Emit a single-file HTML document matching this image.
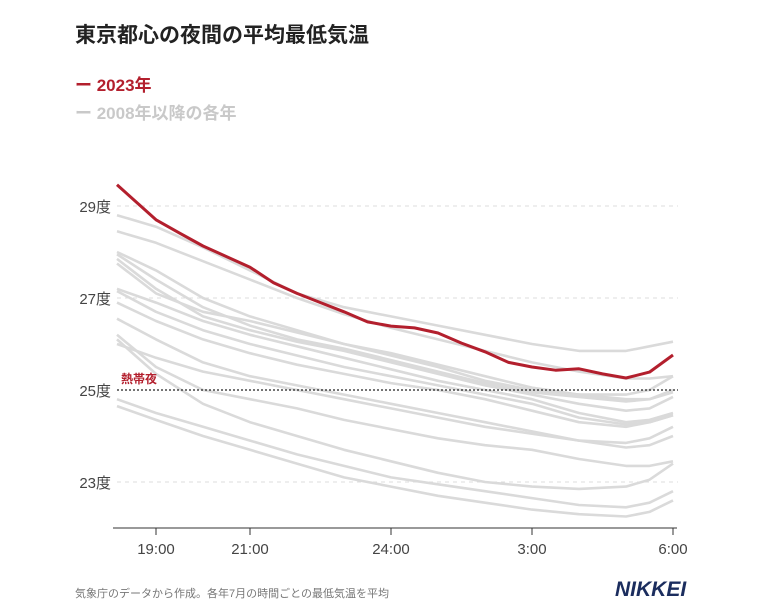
<!DOCTYPE html>
<html><head><meta charset="utf-8">
<style>
body{margin:0;background:#fff;width:775px;height:604px;overflow:hidden;font-family:"Liberation Sans","Noto Sans CJK JP",sans-serif;}
#wrap{position:relative;width:775px;height:604px;}
.t{position:absolute;white-space:nowrap;}
</style></head><body>
<div id="wrap">
<div class="t" style="left:75px;top:19px;font-size:21px;font-weight:bold;color:#222;">東京都心の夜間の平均最低気温</div>
<div class="t" style="left:75px;top:71px;font-size:17px;font-weight:bold;color:#b31f2d;">ー 2023年</div>
<div class="t" style="left:75px;top:99px;font-size:17px;font-weight:bold;color:#c9c9c9;">ー 2008年以降の各年</div>
<svg id="chart" width="775" height="604" style="position:absolute;left:0;top:0"></svg>
<div class="t" style="left:75px;top:585px;font-size:11px;color:#777;">気象庁のデータから作成。各年7月の時間ごとの最低気温を平均</div>
<div class="t" style="left:615px;top:578px;font-size:21px;font-weight:bold;font-style:italic;color:#1b2d5e;letter-spacing:0px;">NIKKEI</div>
</div>
<script>
const hours=[18.17,19,19.5,20,20.5,21,21.5,22,22.5,23,23.5,24,24.5,25,25.5,26,26.5,27,27.5,28,28.5,29,29.5,30];
const red2023=[29.46,28.7,28.41,28.13,27.9,27.67,27.33,27.1,26.9,26.7,26.48,26.39,26.35,26.24,26.02,25.83,25.6,25.5,25.43,25.46,25.35,25.26,25.39,25.76];
const grayHours=[18.17,19,20,21,22,23,24,25,26,27,28,29,29.5,30];
const gray1=[28.8,28.55,28.1,27.6,27.1,26.8,26.6,26.4,26.2,26.0,25.85,25.85,25.95,26.05];
const gray2=[28.45,28.2,27.8,27.4,27.0,26.65,26.35,26.1,25.85,25.6,25.4,25.25,25.25,25.3];
const gray3=[28.0,27.6,27.0,26.6,26.3,26.0,25.8,25.55,25.3,25.05,24.9,24.8,24.8,25.0];
const gray4=[27.95,27.4,26.8,26.4,26.1,25.9,25.65,25.4,25.15,24.95,24.85,24.75,24.8,24.95];
const gray5=[27.85,27.2,26.6,26.3,26.05,25.85,25.6,25.35,25.1,24.9,24.7,24.55,24.6,24.85];
const gray6=[27.75,27.1,26.7,26.5,26.25,26.0,25.75,25.5,25.2,25.0,24.9,24.9,25.0,25.3];
const gray7=[27.2,26.9,26.5,26.2,25.95,25.7,25.45,25.2,25.0,24.8,24.5,24.3,24.35,24.5];
const gray8=[27.15,26.7,26.3,26.0,25.75,25.5,25.3,25.1,24.9,24.7,24.4,24.25,24.3,24.45];
const gray9=[26.9,26.5,26.1,25.8,25.55,25.35,25.15,25.0,24.8,24.55,24.3,24.2,24.3,24.45];
const gray10=[26.55,26.1,25.6,25.3,25.1,24.9,24.7,24.5,24.3,24.1,23.9,23.75,23.8,24.0];
const gray11=[26.2,25.5,25.0,24.8,24.6,24.35,24.15,23.95,23.8,23.7,23.5,23.35,23.35,23.45];
const gray12=[26.1,25.35,24.7,24.3,24.0,23.7,23.45,23.2,23.0,22.9,22.85,22.9,23.05,23.4];
const gray13=[24.8,24.5,24.2,23.9,23.6,23.35,23.1,22.95,22.8,22.65,22.5,22.45,22.55,22.8];
const gray14=[24.65,24.35,24.0,23.7,23.4,23.1,22.9,22.7,22.55,22.4,22.3,22.25,22.35,22.6];
const gray15=[26.0,25.7,25.4,25.2,25.0,24.8,24.6,24.4,24.2,24.05,23.9,23.85,23.95,24.2];
const yTicks=[23,25,27,29];
const yTickLabels=["23度","25度","27度","29度"];
const xTicks=[19,21,24,27,30];
const xTickLabels=["19:00","21:00","24:00","3:00","6:00"];
const tropicalNight=25;

const NS="http://www.w3.org/2000/svg";
const svg=document.getElementById('chart');
function X(h){return 156+(h-19)*47;}
function Y(v){return 390-(v-25)*46;}
function mk(t,a){const e=document.createElementNS(NS,t);for(const k in a)e.setAttribute(k,a[k]);svg.appendChild(e);return e;}

yTicks.forEach((v,i)=>{
  if(v!==tropicalNight){
    const g=mk('line',{x1:117,x2:678,y1:Y(v),y2:Y(v),stroke:'#ddd','stroke-dasharray':'4,4','stroke-width':1});
    
    
  }
  const t=mk('text',{x:111,y:Y(v)+6,'text-anchor':'end','font-size':15,fill:'#444'});
  t.textContent=yTickLabels[i];
  
  
});
const ax=mk('line',{x1:113,x2:677,y1:528,y2:528,stroke:'#333','stroke-width':1});


xTicks.forEach((h,i)=>{
  const tk=mk('line',{x1:X(h),x2:X(h),y1:528,y2:535,stroke:'#333','stroke-width':1});
  
  
  const t=mk('text',{x:X(h),y:554,'text-anchor':'middle','font-size':15,fill:'#444'});
  t.textContent=xTickLabels[i];
  
  
});
function path(hs,vs){return hs.map((h,i)=>(i?'L':'M')+X(h).toFixed(1)+','+Y(vs[i]).toFixed(1)).join('');}
const grays=[gray1,gray2,gray3,gray4,gray5,gray6,gray7,gray8,gray9,gray10,gray11,gray12,gray13,gray14,gray15];
grays.forEach((g,i)=>{
  const p=mk('path',{d:path(grayHours,g),fill:'none',stroke:'#dadada','stroke-width':2.6,'stroke-linejoin':'round'});
  
  
});
const tn=mk('line',{x1:117,x2:678,y1:Y(tropicalNight),y2:Y(tropicalNight),stroke:'#222','stroke-dasharray':'2,2','stroke-width':1.3});


const tl=mk('text',{x:121,y:Y(tropicalNight)-7,'font-size':12,fill:'#b31f2d','font-weight':'bold'});
tl.textContent='熱帯夜';


const r=mk('path',{d:path(hours,red2023),fill:'none',stroke:'#b31f2d','stroke-width':3,'stroke-linejoin':'round'});


</script>
</body></html>
